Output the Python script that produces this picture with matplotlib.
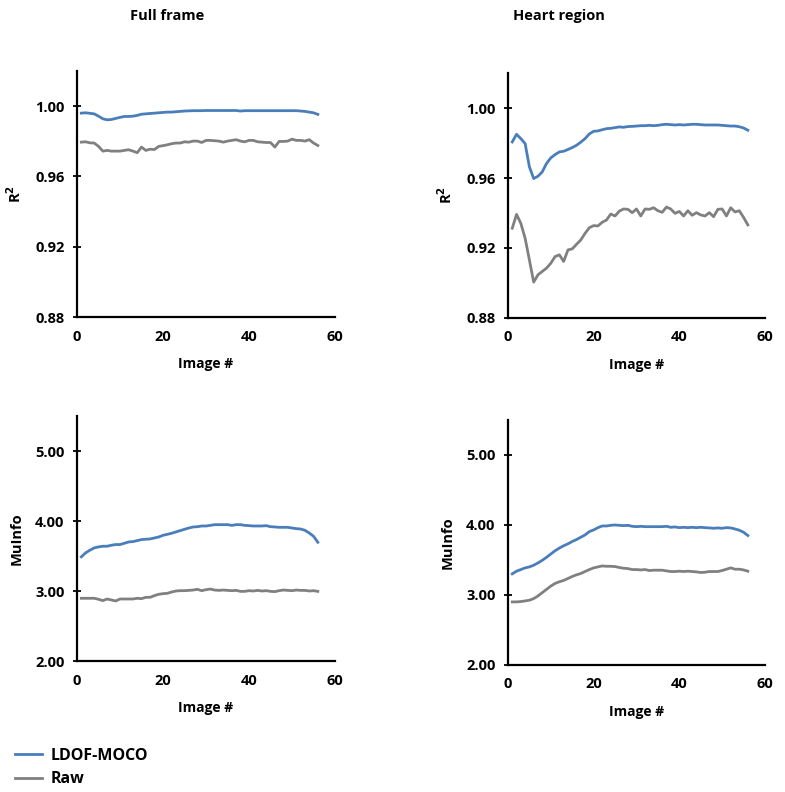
import numpy as np
import matplotlib
matplotlib.use("Agg")
import matplotlib.pyplot as plt
from matplotlib.ticker import FormatStrFormatter

plt.rcParams['font.family'] = ['Open Sans', 'DejaVu Sans']
plt.rcParams['font.weight'] = 'bold'

# Image index
img = np.arange(1, 57)

# R2, full frame
r2_full_moco = [0.9960, 0.9962, 0.9959, 0.9956, 0.9943, 0.9928, 0.9922, 0.9924, 0.9930, 0.9936,
                0.9941, 0.9941, 0.9943, 0.9947, 0.9954, 0.9956, 0.9958, 0.9960, 0.9962, 0.9964,
                0.9966, 0.9966, 0.9968, 0.9970, 0.9972, 0.9973, 0.9974, 0.9974, 0.9974, 0.9975,
                0.9975, 0.9975, 0.9975, 0.9975, 0.9975, 0.9975, 0.9975, 0.9972, 0.9974, 0.9974,
                0.9974, 0.9974, 0.9974, 0.9974, 0.9974, 0.9974, 0.9974, 0.9974, 0.9974, 0.9974,
                0.9974, 0.9972, 0.9970, 0.9966, 0.9962, 0.9953]
r2_full_raw = [0.9795, 0.9797, 0.9791, 0.9790, 0.9771, 0.9744, 0.9748, 0.9744, 0.9744, 0.9744,
               0.9748, 0.9752, 0.9744, 0.9735, 0.9767, 0.9748, 0.9755, 0.9753, 0.9771, 0.9775,
               0.9780, 0.9786, 0.9790, 0.9790, 0.9797, 0.9795, 0.9801, 0.9801, 0.9793, 0.9805,
               0.9805, 0.9803, 0.9801, 0.9795, 0.9801, 0.9805, 0.9809, 0.9801, 0.9797, 0.9805,
               0.9805, 0.9797, 0.9795, 0.9793, 0.9793, 0.9767, 0.9799, 0.9799, 0.9801, 0.9812,
               0.9805, 0.9805, 0.9801, 0.9809, 0.9790, 0.9776]

# R2, heart region
r2_heart_moco = [0.9806, 0.9850, 0.9825, 0.9797, 0.9664, 0.9597, 0.9610, 0.9635, 0.9683, 0.9715,
                 0.9734, 0.9749, 0.9753, 0.9763, 0.9774, 0.9787, 0.9805, 0.9825, 0.9852, 0.9867,
                 0.9869, 0.9876, 0.9882, 0.9884, 0.9888, 0.9892, 0.9890, 0.9894, 0.9895, 0.9897,
                 0.9899, 0.9899, 0.9901, 0.9899, 0.9901, 0.9905, 0.9907, 0.9905, 0.9903, 0.9905,
                 0.9903, 0.9905, 0.9907, 0.9907, 0.9905, 0.9903, 0.9903, 0.9903, 0.9903, 0.9901,
                 0.9899, 0.9897, 0.9897, 0.9893, 0.9886, 0.9873]
r2_heart_raw = [0.9313, 0.9392, 0.9341, 0.9256, 0.9132, 0.9005, 0.9047, 0.9066, 0.9085, 0.9113,
                0.9151, 0.9161, 0.9123, 0.9189, 0.9195, 0.9221, 0.9246, 0.9284, 0.9316, 0.9328,
                0.9326, 0.9347, 0.9360, 0.9394, 0.9383, 0.9411, 0.9423, 0.9421, 0.9402, 0.9423,
                0.9383, 0.9423, 0.9421, 0.9430, 0.9413, 0.9404, 0.9434, 0.9423, 0.9398, 0.9409,
                0.9383, 0.9413, 0.9387, 0.9402, 0.9389, 0.9383, 0.9402, 0.9379, 0.9421, 0.9423,
                0.9383, 0.9430, 0.9406, 0.9413, 0.9375, 0.9332]

# Mutual information, full frame
mi_full_moco = [3.488, 3.545, 3.583, 3.616, 3.630, 3.640, 3.640, 3.654, 3.664, 3.664,
                3.682, 3.701, 3.706, 3.720, 3.735, 3.740, 3.744, 3.758, 3.772, 3.796,
                3.810, 3.825, 3.844, 3.863, 3.882, 3.900, 3.915, 3.919, 3.929, 3.929,
                3.938, 3.948, 3.948, 3.948, 3.948, 3.938, 3.948, 3.948, 3.938, 3.934,
                3.929, 3.929, 3.929, 3.934, 3.919, 3.915, 3.910, 3.910, 3.910, 3.900,
                3.891, 3.886, 3.867, 3.829, 3.782, 3.697]
mi_full_raw = [2.896, 2.896, 2.896, 2.896, 2.882, 2.863, 2.886, 2.872, 2.858, 2.886,
               2.886, 2.886, 2.886, 2.896, 2.891, 2.910, 2.910, 2.934, 2.953, 2.962,
               2.967, 2.986, 3.000, 3.005, 3.005, 3.009, 3.014, 3.024, 3.005, 3.019,
               3.028, 3.014, 3.009, 3.014, 3.009, 3.005, 3.009, 2.995, 2.995, 3.005,
               3.000, 3.009, 3.000, 3.005, 2.995, 2.991, 3.005, 3.014, 3.009, 3.005,
               3.014, 3.009, 3.009, 3.000, 3.005, 2.995]

# Mutual information, heart region
mi_heart_moco = [3.302, 3.340, 3.363, 3.387, 3.401, 3.425, 3.458, 3.495, 3.538, 3.585,
                 3.632, 3.670, 3.703, 3.731, 3.764, 3.792, 3.825, 3.858, 3.906, 3.929,
                 3.962, 3.986, 3.986, 3.995, 4.000, 3.995, 3.991, 3.995, 3.981, 3.976,
                 3.981, 3.976, 3.976, 3.976, 3.976, 3.976, 3.981, 3.967, 3.972, 3.962,
                 3.967, 3.962, 3.967, 3.962, 3.967, 3.962, 3.958, 3.953, 3.958, 3.953,
                 3.962, 3.958, 3.943, 3.925, 3.896, 3.849]
mi_heart_raw = [2.901, 2.901, 2.906, 2.915, 2.925, 2.948, 2.986, 3.033, 3.080, 3.127,
                3.165, 3.189, 3.208, 3.236, 3.264, 3.288, 3.307, 3.335, 3.363, 3.387,
                3.401, 3.415, 3.410, 3.410, 3.406, 3.392, 3.382, 3.377, 3.363, 3.363,
                3.358, 3.363, 3.349, 3.354, 3.354, 3.354, 3.344, 3.335, 3.335, 3.340,
                3.335, 3.340, 3.335, 3.330, 3.321, 3.325, 3.335, 3.335, 3.335, 3.349,
                3.368, 3.387, 3.368, 3.368, 3.358, 3.340]

titles = ['Full frame', 'Heart region']
series_names = ['LDOF-MOCO', 'Raw']
blue = '#4A7EBB'
gray = '#808080'

fig = plt.figure(figsize=(7.85, 7.92), dpi=100)

# axes boxes in figure fractions
boxes = [[0.0981, 0.5997, 0.3287, 0.3107],
         [0.6471, 0.5985, 0.3274, 0.3093],
         [0.0981, 0.1654, 0.3287, 0.3093],
         [0.6471, 0.1604, 0.3274, 0.3093]]
panels = [(r2_full_moco, r2_full_raw, (0.88, 1.02), [0.88, 0.92, 0.96, 1.00], 'R$^\\mathbf{2}$'),
          (r2_heart_moco, r2_heart_raw, (0.88, 1.02), [0.88, 0.92, 0.96, 1.00], 'R$^\\mathbf{2}$'),
          (mi_full_moco, mi_full_raw, (2.0, 5.5), [2.0, 3.0, 4.0, 5.0], 'MuInfo'),
          (mi_heart_moco, mi_heart_raw, (2.0, 5.5), [2.0, 3.0, 4.0, 5.0], 'MuInfo')]

for box, (moco, raw, ylim, yticks, ylab) in zip(boxes, panels):
    ax = fig.add_axes(box)
    l1, = ax.plot(img, moco, color=blue, lw=2.0)
    l2, = ax.plot(img, raw, color=gray, lw=2.0)
    ax.set_xlim(0, 60)
    ax.set_ylim(*ylim)
    ax.set_xticks([0, 20, 40, 60])
    ax.set_yticks(yticks)
    ax.yaxis.set_major_formatter(FormatStrFormatter('%.2f'))
    for s in ['top', 'right']:
        ax.spines[s].set_visible(False)
    for s in ['left', 'bottom']:
        ax.spines[s].set_linewidth(1.6)
    ax.tick_params(axis='y', direction='inout', length=6, width=1.3, pad=6, labelsize=10.5)
    ax.tick_params(axis='x', length=0, pad=9, labelsize=10.5)
    ax.set_xlabel('Image #', fontsize=10, fontweight='bold', labelpad=10)
    ax.set_ylabel(ylab, fontsize=10.5, fontweight='bold', labelpad=8)

fig.text(167 / 785, 1 - 16 / 792, titles[0], ha='center', va='center', fontsize=10.5, fontweight='bold')
fig.text(559 / 785, 1 - 16 / 792, titles[1], ha='center', va='center', fontsize=10.5, fontweight='bold')

fig.legend([l1, l2], series_names, loc='upper left', bbox_to_anchor=(15 / 785, 1 - 748 / 792),
           frameon=False, handlelength=1.7, handletextpad=0.5,
           labelspacing=0.45, borderaxespad=0, borderpad=0,
           prop={'weight': 'bold', 'size': 11.5})

fig.savefig('out.png', dpi=100)
